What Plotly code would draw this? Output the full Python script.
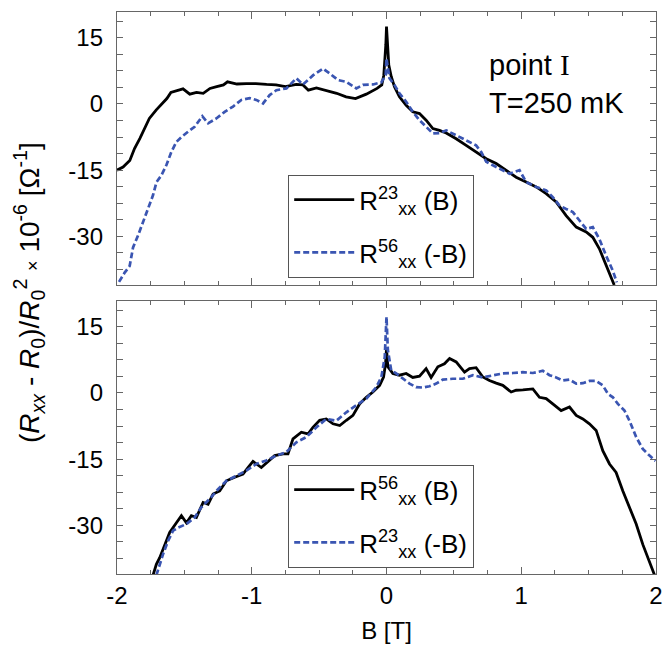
import plotly.graph_objects as go

# ---------------- data ----------------
# Upper panel: R23_xx(B) (black) and R56_xx(-B) (blue dashed)
top_black_B = [-2.0, -1.955, -1.905, -1.87, -1.83, -1.79, -1.76, -1.71, -1.67, -1.63, -1.60, -1.56,
               -1.51, -1.46, -1.41, -1.36, -1.31, -1.26, -1.21, -1.18, -1.11, -1.04, -0.97, -0.89,
               -0.82, -0.75, -0.67, -0.62, -0.58, -0.52, -0.45, -0.37, -0.30, -0.23, -0.15, -0.07,
               -0.035, -0.02, -0.005, 0.0, 0.017, 0.035, 0.059, 0.096, 0.146, 0.195, 0.245, 0.294,
               0.344, 0.393, 0.443, 0.517, 0.591, 0.665, 0.74, 0.814, 0.888, 0.962, 1.036, 1.111,
               1.185, 1.259, 1.333, 1.408, 1.482, 1.531, 1.58, 1.63, 1.665, 1.69]
top_black_v = [-15.0, -14.3, -12.8, -10.1, -7.8, -5.2, -3.3, -1.4, -0.1, 1.2, 2.6, 2.9,
               3.4, 2.2, 2.6, 2.4, 3.5, 3.9, 4.3, 5.0, 4.5, 4.6, 4.6, 4.4,
               4.3, 3.9, 4.4, 4.3, 3.1, 3.6, 3.1, 2.4, 1.6, 1.2, 2.2, 3.5,
               4.3, 6.5, 13.4, 17.5, 8.8, 6.2, 3.9, 1.6, -0.3, -1.8, -2.2, -3.7,
               -5.6, -6.0, -6.6, -7.9, -9.4, -10.9, -12.4, -13.5, -15.0, -16.6, -17.7, -18.8,
               -20.3, -22.2, -25.3, -27.9, -29.0, -30.2, -32.8, -36.6, -39.3, -41.0]

top_blue_B = [-1.985, -1.943, -1.906, -1.881, -1.844, -1.807, -1.770, -1.733, -1.707, -1.671,
              -1.634, -1.597, -1.559, -1.522, -1.473, -1.424, -1.367, -1.324, -1.263, -1.201,
              -1.139, -1.077, -1.015, -0.966, -0.916, -0.867, -0.817, -0.743, -0.669, -0.620,
              -0.544, -0.471, -0.422, -0.360, -0.298, -0.224, -0.175, -0.100, -0.038, -0.006,
              0.0, 0.022, 0.059, 0.096, 0.146, 0.195, 0.245, 0.294, 0.344, 0.393,
              0.443, 0.517, 0.591, 0.665, 0.703, 0.740, 0.789, 0.839, 0.913, 0.987,
              1.036, 1.111, 1.185, 1.234, 1.284, 1.333, 1.383, 1.432, 1.482, 1.531,
              1.580, 1.630, 1.680, 1.709]
top_blue_v = [-40.3, -38.2, -36.7, -32.5, -29.8, -26.8, -23.8, -20.7, -17.7, -16.2,
              -13.9, -10.9, -8.6, -7.5, -6.3, -5.2, -2.8, -4.4, -3.3, -1.8,
              -0.6, 0.9, 1.3, 0.9, 0.1, 2.0, 3.1, 3.5, 5.8, 4.4,
              6.5, 8.0, 6.9, 5.4, 5.0, 3.5, 4.3, 4.4, 4.9, 6.5,
              10.3, 5.8, 4.3, 2.4, 0.5, -1.8, -3.7, -5.2, -6.7, -6.6,
              -6.0, -7.1, -8.2, -9.4, -10.9, -13.1, -13.9, -14.7, -15.8, -15.0,
              -17.7, -18.8, -19.6, -21.1, -23.0, -23.8, -24.5, -26.4, -28.3, -27.9,
              -30.6, -34.4, -37.8, -40.4]

# Lower panel: R56_xx(B) (black) and R23_xx(-B) (blue dashed)
bot_black_B = [-1.733, -1.708, -1.683, -1.646, -1.609, -1.559, -1.522, -1.485, -1.448, -1.411,
               -1.361, -1.324, -1.287, -1.238, -1.188, -1.126, -1.065, -1.028, -0.991, -0.929,
               -0.867, -0.830, -0.768, -0.731, -0.694, -0.632, -0.583, -0.546, -0.496, -0.447,
               -0.397, -0.347, -0.298, -0.249, -0.200, -0.150, -0.101, -0.051, -0.022, -0.007,
               0.0, 0.01, 0.047, 0.096, 0.146, 0.195, 0.245, 0.294, 0.331, 0.381,
               0.43, 0.468, 0.517, 0.579, 0.616, 0.665, 0.715, 0.764, 0.814, 0.863,
               0.925, 0.962, 1.012, 1.086, 1.135, 1.185, 1.234, 1.296, 1.358, 1.408,
               1.457, 1.506, 1.556, 1.605, 1.655, 1.704, 1.754, 1.803, 1.853, 1.902,
               1.939, 1.972, 1.99]
bot_black_v = [-41.3, -38.8, -37.3, -34.3, -31.6, -29.4, -27.8, -29.4, -27.8, -28.2,
               -24.8, -25.2, -22.9, -22.2, -19.9, -19.1, -18.4, -16.9, -15.5, -16.9,
               -15.3, -14.2, -13.8, -13.8, -10.4, -8.9, -9.3, -7.8, -6.2, -5.9,
               -7.0, -7.4, -6.2, -5.1, -2.5, -1.0, 0.2, 1.7, 3.6, 6.6,
               10.0, 5.9, 4.4, 4.0, 4.4, 3.5, 3.8, 5.5, 3.5, 5.9,
               6.6, 7.8, 7.0, 4.7, 5.5, 5.7, 3.6, 2.8, 2.2, 1.7,
               0.2, 0.6, 0.7, 0.9, -1.0, -1.3, -2.5, -4.0, -3.2, -5.1,
               -5.9, -7.0, -8.5, -13.1, -16.1, -18.0, -22.2, -25.9, -29.7, -34.3,
               -37.3, -39.6, -41.3]

bot_blue_B = [-1.708, -1.683, -1.658, -1.621, -1.584, -1.547, -1.485, -1.424, -1.374, -1.312,
              -1.250, -1.188, -1.114, -1.040, -0.966, -0.892, -0.817, -0.743, -0.669, -0.595,
              -0.520, -0.447, -0.372, -0.298, -0.224, -0.150, -0.076, -0.038, -0.013, 0.0,
              0.01, 0.035, 0.072, 0.121, 0.171, 0.22, 0.27, 0.319, 0.369, 0.418,
              0.492, 0.566, 0.641, 0.715, 0.789, 0.863, 0.938, 1.012, 1.086, 1.16,
              1.21, 1.259, 1.309, 1.358, 1.408, 1.457, 1.506, 1.556, 1.605, 1.643,
              1.68, 1.717, 1.766, 1.803, 1.853, 1.902, 1.952, 1.996]
bot_blue_v = [-41.3, -38.8, -36.5, -33.5, -31.2, -30.5, -29.7, -28.2, -25.9, -24.0,
              -21.8, -19.9, -18.7, -17.6, -16.1, -15.3, -14.2, -13.4, -11.2, -10.0,
              -7.8, -5.9, -6.3, -4.4, -2.8, -1.3, 1.3, 3.6, 8.1, 17.2,
              9.7, 5.1, 4.4, 3.2, 2.1, 1.3, 1.2, 1.5, 2.1, 3.0,
              3.2, 3.2, 4.0, 3.5, 4.0, 4.4, 4.5, 4.7, 4.5, 5.0,
              4.0, 3.5, 2.8, 3.0, 2.1, 2.2, 2.7, 2.7, 1.7, -0.2,
              -1.0, -2.5, -4.0, -6.3, -10.0, -12.7, -14.2, -15.4]

legend_top = ["R<sup>23</sup><sub>xx</sub> (B)", "R<sup>56</sup><sub>xx</sub> (-B)"]
legend_bot = ["R<sup>56</sup><sub>xx</sub> (B)", "R<sup>23</sup><sub>xx</sub> (-B)"]

x_tick_vals = [-2, -1, 0, 1, 2]
x_tick_text = ["-2", "-1", "0", "1", "2"]
y_tick_vals = [-30, -15, 0, 15]
y_tick_text = ["-30", "-15", "0", "15"]

x_range = [-2, 2]
y_range = [-41, 20.8]

# ---------------- styling ----------------
FONT = "Liberation Sans, Arial, sans-serif"
BLACK = "#000000"
BLUE = "#3a55b2"
FRAME = "#666666"

black_line = dict(color=BLACK, width=2.8)
blue_line = dict(color=BLUE, width=2.7, dash="6px,3px")

fig = go.Figure()
fig.add_trace(go.Scatter(x=top_black_B, y=top_black_v, mode="lines", line=black_line,
                         name=legend_top[0], xaxis="x2", yaxis="y2", legend="legend",
                         legendgroup="t1"))
fig.add_trace(go.Scatter(x=top_blue_B, y=top_blue_v, mode="lines", line=blue_line,
                         name=legend_top[1], xaxis="x2", yaxis="y2", legend="legend",
                         legendgroup="t2"))
fig.add_trace(go.Scatter(x=bot_black_B, y=bot_black_v, mode="lines", line=black_line,
                         name=legend_bot[0], xaxis="x", yaxis="y", legend="legend2",
                         legendgroup="b1"))
fig.add_trace(go.Scatter(x=bot_blue_B, y=bot_blue_v, mode="lines", line=blue_line,
                         name=legend_bot[1], xaxis="x", yaxis="y", legend="legend2",
                         legendgroup="b2"))

axis_common = dict(showline=True, linecolor=FRAME, linewidth=1.3, mirror="allticks",
                   ticks="inside", tickcolor=FRAME, tickwidth=1.2, zeroline=False,
                   showgrid=False, tickfont=dict(family=FONT, size=24, color=BLACK))

xcommon = dict(axis_common, range=x_range, tickmode="array", tickvals=x_tick_vals,
               ticktext=x_tick_text, ticklen=7, ticklabeloverflow="allow",
               minor=dict(dtick=0.25, tick0=0, ticks="inside", ticklen=4,
                          tickcolor=FRAME, tickwidth=1.1))
ycommon = dict(axis_common, range=y_range, tickmode="array", tickvals=y_tick_vals,
               ticktext=y_tick_text, ticklen=6, ticklabelstandoff=8,
               minor=dict(dtick=3.75, tick0=0, ticks="inside", ticklen=6,
                          tickcolor=FRAME, tickwidth=1.1))

bot_top = (574 - 301) / 562
top_bot = (574 - 285) / 562

legend_style = dict(xanchor="left", yanchor="top", bordercolor="#555555", borderwidth=1.2,
                    bgcolor="white", font=dict(family=FONT, size=26, color=BLACK),
                    itemwidth=60, tracegroupgap=16)

fig.update_layout(
    width=663, height=653,
    margin=dict(l=117, r=7, t=12, b=79, autoexpand=False),
    paper_bgcolor="white", plot_bgcolor="white",
    font=dict(family=FONT, color=BLACK),
    xaxis=dict(xcommon, domain=[0, 1], anchor="y", showticklabels=True,
               title=dict(text="B [T]", font=dict(family=FONT, size=24, color=BLACK), standoff=14)),
    xaxis2=dict(xcommon, domain=[0, 1], anchor="y2", matches="x", showticklabels=False),
    yaxis=dict(ycommon, domain=[0, bot_top], anchor="x"),
    yaxis2=dict(ycommon, domain=[top_bot, 1], anchor="x2"),
    legend=dict(legend_style, x=(288 - 117) / 539, y=(574 - 175) / 562),
    legend2=dict(legend_style, x=(288 - 117) / 539, y=(574 - 465) / 562),
    showlegend=True,
)

ytitle = ("(<i>R</i><sub><i>xx</i></sub> - <i>R</i><sub>0</sub>)/<i>R</i><sub>0</sub><sup>2</sup>"
          " <span style='font-size:18px'>×</span> 10<sup>-6</sup> [Ω<sup>-1</sup>]")
fig.add_annotation(text=ytitle, xref="paper", yref="paper", x=(29 - 117) / 539, y=0.5,
                   textangle=-90, showarrow=False, xanchor="center", yanchor="middle",
                   font=dict(family=FONT, size=28, color=BLACK))
fig.add_annotation(text="point <span style='font-family:Liberation Serif'>I</span>",
                   xref="x2 domain", yref="y2 domain", x=(487 - 117.3) / 539,
                   y=(285 - 65) / 273, xanchor="left", yanchor="middle", showarrow=False,
                   font=dict(family=FONT, size=29, color=BLACK))
fig.add_annotation(text="T=250 mK",
                   xref="x2 domain", yref="y2 domain", x=(487 - 117.3) / 539,
                   y=(285 - 103) / 273, xanchor="left", yanchor="middle", showarrow=False,
                   font=dict(family=FONT, size=29, color=BLACK))

# remove the default page margin so the figure sits at the window's top-left corner
fig.write_html("out.html",
               config={"displayModeBar": False},
               post_script="document.body.style.margin='0';"
                           "document.documentElement.style.overflow='hidden';")
